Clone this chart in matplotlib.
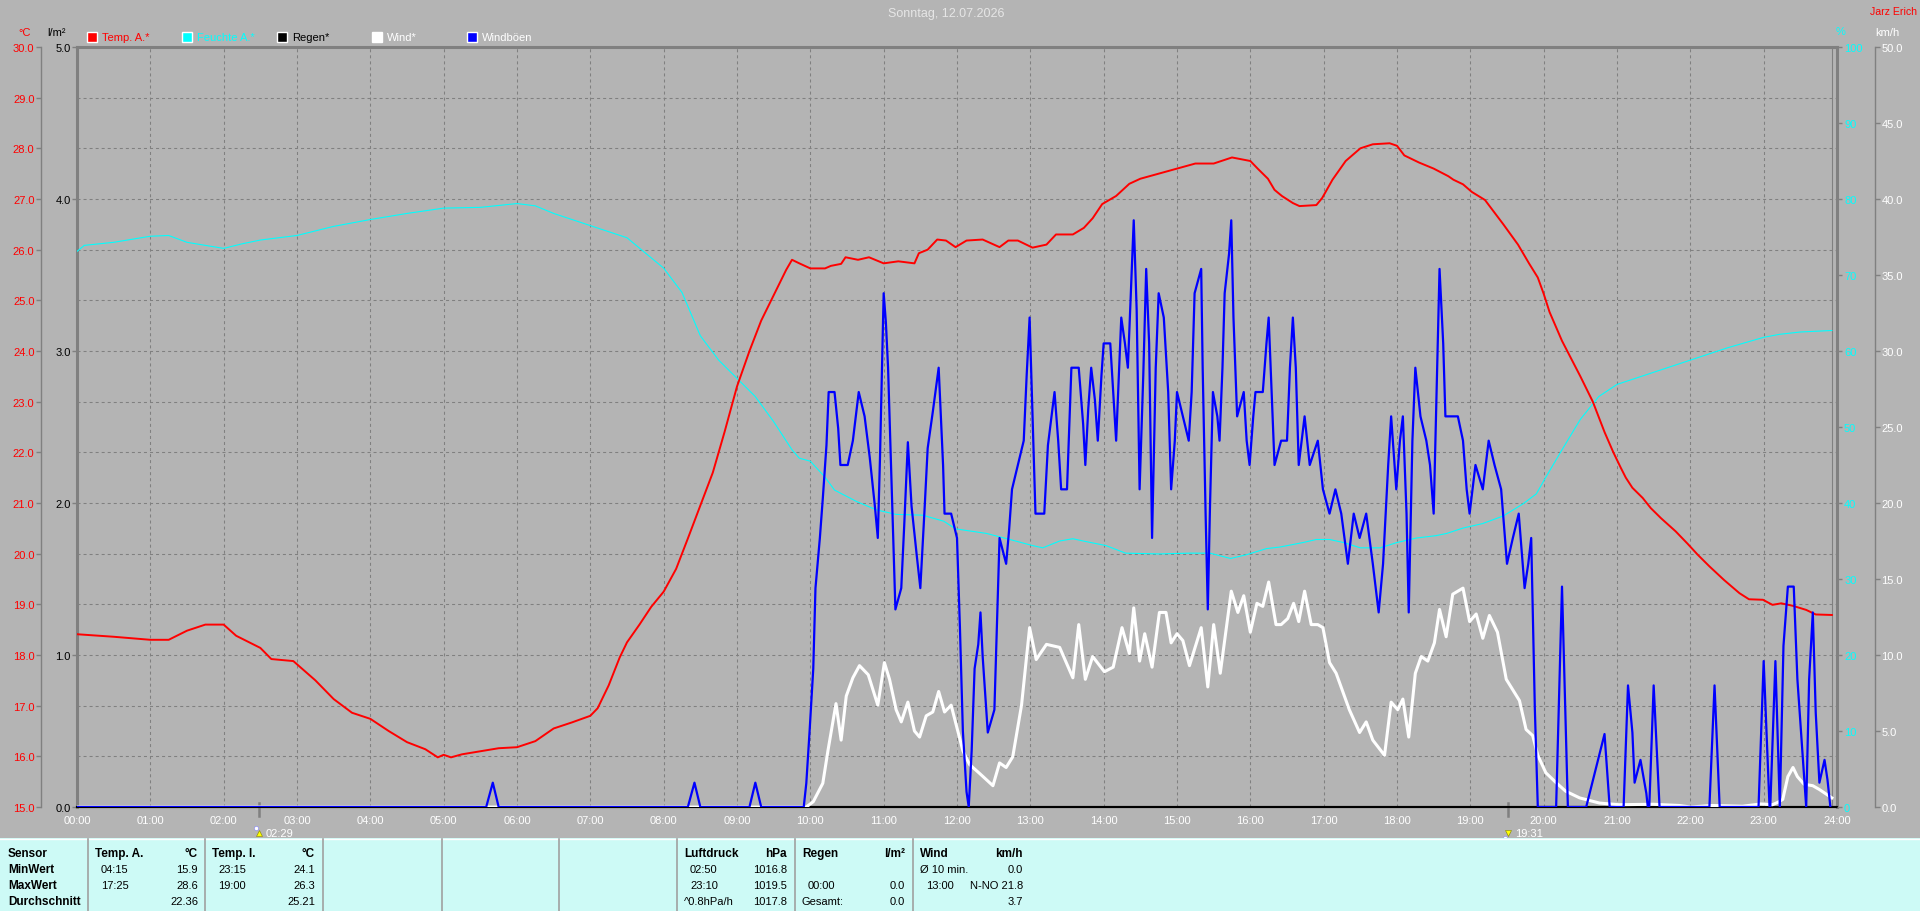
"""Tagesgrafik Wetterstation: Temperatur, Feuchte, Regen, Wind und Windböen (12.07.2026)."""

import matplotlib
matplotlib.use("Agg")
import matplotlib.pyplot as plt
import matplotlib.transforms as mtransforms
from matplotlib.lines import Line2D
from matplotlib.patches import Rectangle
from matplotlib.ticker import FuncFormatter, MultipleLocator

plt.rcParams["font.family"] = ["Liberation Sans", "DejaVu Sans"]

W, H = 1920, 912

# ---------------------------------------------------------------- data (hours of day)
TEMP_T = [0.0, 0.5, 1.0, 1.25, 1.5, 1.75, 2.0, 2.17, 2.5, 2.65, 2.95, 3.25, 3.5, 3.75,
          4.0, 4.25, 4.5, 4.75, 4.92, 5.0, 5.1, 5.25, 5.5, 5.75, 6.0, 6.25, 6.5, 6.75,
          7.0, 7.1, 7.25, 7.4, 7.5, 7.67, 7.83, 8.0, 8.17, 8.33, 8.5, 8.67, 8.83, 9.0,
          9.17, 9.33, 9.5, 9.67, 9.75, 9.85, 10.0, 10.2, 10.28, 10.42, 10.48, 10.65,
          10.8, 11.0, 11.2, 11.42, 11.48, 11.6, 11.73, 11.85, 11.98, 12.13, 12.35,
          12.58, 12.7, 12.83, 13.03, 13.22, 13.35, 13.58, 13.73, 13.85, 13.98, 14.17,
          14.35, 14.5, 14.75, 15.0, 15.25, 15.5, 15.75, 16.0, 16.1, 16.24, 16.33,
          16.43, 16.58, 16.67, 16.9, 16.98, 17.12, 17.3, 17.5, 17.67, 17.9, 18.0,
          18.1, 18.3, 18.5, 18.7, 18.77, 18.9, 19.02, 19.2, 19.45, 19.65, 19.8,
          19.92, 20.0, 20.08, 20.25, 20.5, 20.67, 20.83, 20.95, 21.05, 21.12, 21.21,
          21.35, 21.46, 21.6, 21.8, 21.96, 22.1, 22.26, 22.46, 22.67, 22.8, 22.99,
          23.12, 23.24, 23.4, 23.58, 23.71, 23.93]
TEMP_V = [18.41, 18.36, 18.3, 18.3, 18.48, 18.6, 18.6, 18.38, 18.14, 17.92, 17.88, 17.5,
          17.13, 16.86, 16.74, 16.5, 16.28, 16.14, 15.98, 16.03, 15.98, 16.04, 16.1,
          16.16, 16.18, 16.3, 16.55, 16.67, 16.8, 16.95, 17.4, 17.95, 18.25, 18.6,
          18.95, 19.25, 19.7, 20.3, 20.95, 21.6, 22.4, 23.3, 24.0, 24.6, 25.1, 25.6,
          25.8, 25.73, 25.63, 25.63, 25.68, 25.72, 25.85, 25.8, 25.85, 25.73, 25.77,
          25.73, 25.93, 26.0, 26.2, 26.18, 26.05, 26.18, 26.2, 26.05, 26.18, 26.18,
          26.04, 26.1, 26.3, 26.3, 26.43, 26.62, 26.9, 27.06, 27.3, 27.4, 27.5, 27.6,
          27.7, 27.7, 27.82, 27.75, 27.6, 27.4, 27.18, 27.06, 26.92, 26.86, 26.88,
          27.02, 27.38, 27.75, 28.0, 28.08, 28.1, 28.05, 27.86, 27.72, 27.6, 27.45,
          27.38, 27.29, 27.14, 26.98, 26.5, 26.1, 25.73, 25.45, 25.13, 24.77, 24.2,
          23.5, 23.0, 22.4, 22.0, 21.7, 21.5, 21.3, 21.1, 20.9, 20.7, 20.44, 20.2,
          19.98, 19.75, 19.48, 19.22, 19.1, 19.09, 18.99, 19.02, 18.97, 18.89, 18.8,
          18.79]

HUM_T = [0.0, 0.1, 0.5, 1.0, 1.25, 1.5, 2.0, 2.25, 2.5, 3.0, 3.5, 4.0, 4.5, 5.0, 5.5,
         6.0, 6.25, 6.5, 7.0, 7.5, 8.0, 8.25, 8.5, 8.75, 9.0, 9.25, 9.5, 9.75, 9.85,
         10.0, 10.2, 10.33, 10.63, 10.9, 11.17, 11.53, 11.82, 11.98, 12.4, 12.72,
         13.03, 13.17, 13.4, 13.58, 13.72, 14.03, 14.3, 14.75, 15.17, 15.45, 15.73,
         15.95, 16.22, 16.4, 16.72, 16.9, 17.08, 17.27, 17.5, 17.77, 18.0, 18.27,
         18.53, 18.68, 18.9, 19.17, 19.45, 19.72, 19.9, 20.03, 20.25, 20.5, 20.75,
         21.0, 21.5, 22.0, 22.5, 23.0, 23.22, 23.5, 23.93]
HUM_V = [73.1, 73.9, 74.3, 75.1, 75.2, 74.3, 73.5, 74.1, 74.6, 75.2, 76.4, 77.3, 78.1,
         78.8, 78.9, 79.4, 79.1, 78.1, 76.5, 74.9, 70.9, 67.7, 62.0, 58.8, 56.4, 54.0,
         50.7, 47.0, 45.9, 45.5, 43.4, 41.7, 40.2, 39.1, 38.5, 38.4, 37.6, 36.6, 36.0,
         35.2, 34.4, 34.1, 35.0, 35.3, 35.0, 34.4, 33.4, 33.3, 33.4, 33.4, 32.7, 33.2,
         34.0, 34.2, 34.8, 35.2, 35.2, 34.8, 34.1, 34.1, 34.8, 35.4, 35.7, 36.0, 36.7,
         37.3, 38.3, 39.9, 41.2, 43.4, 47.0, 51.0, 54.0, 55.6, 57.2, 58.8, 60.4, 61.8,
         62.2, 62.5, 62.7]

RAIN_T = [0.0, 24.0]
RAIN_V = [0.0, 0.0]

WIND_T = [0.0, 9.945, 10.04, 10.17, 10.24, 10.35, 10.42, 10.49, 10.58, 10.67, 10.79,
          10.92, 11.01, 11.08, 11.17, 11.24, 11.33, 11.42, 11.49, 11.58, 11.67, 11.75,
          11.83, 11.92, 12.08, 12.17, 12.31, 12.49, 12.58, 12.67, 12.76, 12.88, 12.99,
          13.08, 13.22, 13.4, 13.58, 13.66, 13.75, 13.85, 14.01, 14.13, 14.25, 14.35,
          14.41, 14.49, 14.56, 14.66, 14.76, 14.85, 14.92, 15.0, 15.08, 15.17, 15.33,
          15.42, 15.5, 15.59, 15.74, 15.83, 15.91, 16.0, 16.09, 16.17, 16.25, 16.35,
          16.42, 16.51, 16.59, 16.66, 16.74, 16.83, 16.92, 16.99, 17.08, 17.17, 17.26,
          17.35, 17.49, 17.58, 17.67, 17.83, 17.92, 18.01, 18.08, 18.16, 18.25, 18.33,
          18.42, 18.51, 18.58, 18.67, 18.76, 18.9, 18.99, 19.08, 19.17, 19.26, 19.37,
          19.49, 19.67, 19.76, 19.85, 19.92, 20.03, 20.17, 20.3, 20.49, 20.76, 21.03,
          21.49, 21.85, 22.0, 22.3, 22.71, 22.96, 23.12, 23.19, 23.26, 23.33, 23.4,
          23.46, 23.55, 23.67, 23.76, 23.93]
WIND_V = [0.0, 0.0, 0.35, 1.56, 3.7, 6.8, 4.4, 7.3, 8.5, 9.3, 8.7, 6.7, 9.5, 8.4, 6.4,
          5.6, 6.9, 5.0, 4.6, 6.0, 6.25, 7.6, 6.25, 6.7, 3.7, 2.8, 2.2, 1.4, 2.9, 2.6,
          3.3, 6.7, 11.8, 9.7, 10.7, 10.5, 8.5, 12.0, 8.4, 9.9, 8.9, 9.2, 11.8, 10.1,
          13.1, 9.6, 11.4, 9.2, 12.8, 12.8, 10.8, 11.4, 10.95, 9.3, 11.8, 7.9, 12.0,
          8.8, 14.2, 12.8, 13.9, 11.5, 13.4, 13.2, 14.8, 12.0, 12.0, 12.4, 13.4, 12.2,
          14.2, 12.0, 12.0, 11.8, 9.5, 8.8, 7.6, 6.4, 4.9, 5.6, 4.4, 3.4, 6.9, 6.4,
          7.1, 4.6, 8.8, 9.9, 9.6, 10.8, 13.0, 11.2, 14.0, 14.4, 12.2, 12.7, 11.1,
          12.6, 11.5, 8.4, 7.0, 5.1, 4.7, 3.4, 2.25, 1.6, 1.04, 0.6, 0.26, 0.15, 0.18,
          0.1, 0.0, 0.1, 0.05, 0.2, 0.15, 0.3, 0.5, 2.0, 2.6, 2.0, 1.5, 1.4, 1.15, 0.6]

GUST_T = [0.0, 5.58, 5.67, 5.75, 8.33, 8.42, 8.5, 9.17, 9.25, 9.33, 9.91, 9.945, 9.99,
          10.04, 10.07, 10.13, 10.17, 10.22, 10.25, 10.33, 10.38, 10.41, 10.51, 10.58,
          10.66, 10.74, 10.81, 10.88, 10.92, 10.95, 11.0, 11.03, 11.06, 11.1, 11.16,
          11.24, 11.28, 11.33, 11.38, 11.45, 11.5, 11.56, 11.6, 11.67, 11.75, 11.81,
          11.83, 11.92, 12.0, 12.04, 12.08, 12.13, 12.16, 12.2, 12.24, 12.29, 12.32,
          12.35, 12.42, 12.51, 12.56, 12.58, 12.67, 12.71, 12.75, 12.83, 12.91, 12.95,
          12.99, 13.02, 13.07, 13.19, 13.24, 13.33, 13.38, 13.42, 13.5, 13.56, 13.66,
          13.72, 13.75, 13.79, 13.83, 13.88, 13.92, 13.97, 14.0, 14.09, 14.13, 14.17,
          14.24, 14.29, 14.33, 14.37, 14.41, 14.45, 14.49, 14.54, 14.58, 14.62, 14.66,
          14.71, 14.75, 14.82, 14.88, 14.92, 14.97, 15.0, 15.08, 15.16, 15.2, 15.24,
          15.33, 15.35, 15.39, 15.42, 15.45, 15.49, 15.55, 15.58, 15.62, 15.65, 15.71,
          15.74, 15.77, 15.82, 15.91, 15.95, 15.99, 16.04, 16.07, 16.17, 16.22, 16.25,
          16.29, 16.33, 16.42, 16.5, 16.54, 16.58, 16.62, 16.66, 16.74, 16.81, 16.92,
          16.99, 17.08, 17.16, 17.24, 17.33, 17.41, 17.49, 17.58, 17.67, 17.75, 17.81,
          17.88, 17.92, 17.99, 18.04, 18.08, 18.13, 18.16, 18.21, 18.25, 18.32, 18.4,
          18.45, 18.5, 18.54, 18.58, 18.63, 18.66, 18.83, 18.9, 18.95, 18.99, 19.07,
          19.17, 19.25, 19.33, 19.42, 19.5, 19.58, 19.66, 19.74, 19.79, 19.83, 19.88,
          19.92, 20.17, 20.25, 20.33, 20.58, 20.83, 20.9, 21.09, 21.15, 21.21, 21.24,
          21.32, 21.4, 21.42, 21.44, 21.5, 21.58, 22.26, 22.33, 22.4, 22.93, 23.0,
          23.08, 23.09, 23.16, 23.22, 23.27, 23.33, 23.41, 23.46, 23.58, 23.62, 23.67,
          23.71, 23.76, 23.83, 23.87, 23.91]
GUST_V = [0.0, 0.0, 1.6, 0.0, 0.0, 1.6, 0.0, 0.0, 1.6, 0.0, 0.0, 1.56, 5.0, 9.1, 14.4,
          17.7, 20.3, 23.8, 27.3, 27.3, 24.9, 22.5, 22.5, 24.1, 27.3, 25.7, 23.0, 19.8,
          17.7, 23.0, 33.8, 31.9, 28.9, 22.5, 13.0, 14.4, 18.5, 24.0, 19.8, 16.6, 14.4,
          19.8, 23.6, 26.0, 28.9, 22.5, 19.3, 19.3, 17.7, 11.8, 5.0, 1.0, 0.0, 3.7, 9.1,
          10.7, 12.8, 9.9, 4.9, 6.4, 14.4, 17.7, 16.0, 18.2, 20.9, 22.5, 24.1, 28.4,
          32.2, 27.3, 19.3, 19.3, 23.8, 27.3, 24.1, 20.9, 20.9, 28.9, 28.9, 25.2, 22.5,
          26.2, 28.9, 26.8, 24.1, 28.4, 30.5, 30.5, 27.3, 24.1, 32.2, 30.5, 28.9, 33.8,
          38.6, 32.7, 20.9, 28.4, 35.4, 30.5, 17.7, 28.9, 33.8, 32.2, 27.3, 20.9, 24.1,
          27.3, 25.7, 24.1, 27.3, 33.8, 35.4, 28.9, 19.3, 13.0, 19.8, 27.3, 25.7, 24.1,
          28.9, 33.8, 36.4, 38.6, 32.2, 25.7, 27.3, 24.1, 22.5, 25.7, 27.3, 27.3, 30.5,
          32.2, 27.3, 22.5, 24.1, 24.1, 28.9, 32.2, 28.9, 22.5, 25.7, 22.5, 24.1, 20.9,
          19.3, 20.9, 19.3, 16.0, 19.3, 17.7, 19.3, 16.0, 12.8, 16.0, 22.5, 25.7, 20.9,
          24.1, 25.7, 19.3, 12.8, 24.1, 28.9, 25.7, 24.1, 22.5, 19.3, 27.3, 35.4, 30.5,
          25.7, 25.7, 24.1, 20.9, 19.3, 22.5, 20.9, 24.1, 22.5, 20.9, 16.0, 17.7, 19.3,
          14.4, 16.0, 17.7, 6.4, 0.0, 0.0, 14.5, 0.0, 0.0, 4.8, 0.0, 0.0, 8.0, 4.9, 1.6,
          3.1, 0.9, 0.0, 0.0, 8.0, 0.0, 0.0, 8.0, 0.0, 0.0, 9.6, 0.0, 0.0, 9.6, 0.0,
          10.6, 14.5, 14.5, 8.4, 0.0, 8.4, 12.8, 6.2, 1.6, 3.1, 1.8, 0.0]

HOURS = list(range(25))
HOUR_LABELS = [f"{h:02d}:00" for h in HOURS]
TEMP_TICKS = list(range(15, 31))
RAIN_TICKS = [0, 1, 2, 3, 4, 5]
HUM_TICKS = list(range(0, 101, 10))
WIND_TICKS = [0, 5, 10, 15, 20, 25, 30, 35, 40, 45, 50]

SUN_TIMES = [2.483, 19.517]
SUN_LABELS = ["02:29", "19:31"]

LEGEND_LABELS = ["Temp. A.*", "Feuchte A.*", "Regen*", "Wind*", "Windböen"]
LEGEND_BOX = ["#ff0000", "#00ffff", "#000000", "#ffffff", "#0000ff"]
LEGEND_TEXT = ["#ff0000", "#00ffff", "#000000", "#ffffff", "#ffffff"]

TITLE = "Sonntag, 12.07.2026"
STATION = "Jarz Erich"

ROW_LABELS = ["Sensor", "MinWert", "MaxWert", "Durchschnitt"]
TABLE_COLS = [
    # (left px, header, unit, [(left text, right text), ...])
    (88, "Temp. A.", "°C", [("04:15", "15.9"), ("17:25", "28.6"), ("", "22.36")]),
    (205, "Temp. I.", "°C", [("23:15", "24.1"), ("19:00", "26.3"), ("", "25.21")]),
    (677, "Luftdruck", "hPa", [("02:50", "1016.8"), ("23:10", "1019.5"), ("^0.8hPa/h", "1017.8")]),
    (795, "Regen", "l/m²", [("", ""), ("00:00", "0.0"), ("Gesamt:", "0.0")]),
    (913, "Wind", "km/h", [("Ø 10 min.", "0.0"), ("13:00", "N-NO 21.8"), ("", "3.7")]),
]
TABLE_SEPARATORS = [88, 205, 323, 442, 559, 677, 795, 913]
FLUSH_LEFT = {"^0.8hPa/h", "Gesamt:", "Ø 10 min."}

BG = "#b4b4b4"
FRAME = "#808080"
TABLE_BG = "#cdfaf6"


def fx(px):
    return px / W


def fy(py):
    return 1 - py / H


def one_decimal(v, _pos):
    return f"{v:.1f}"


def main():
    fig = plt.figure(figsize=(W / 100, H / 100), dpi=100, facecolor=BG)
    ax = fig.add_axes([fx(77), fy(808), fx(1837) - fx(77), fy(48) - fy(808)])
    ax.set_facecolor(BG)

    # base axes: rain (l/m²) + grid + frame
    ax.set_xlim(0, 24)
    ax.set_ylim(0, 5)
    ax.set_xticks(HOURS)
    ax.set_xticklabels(HOUR_LABELS)
    ax.set_yticks(RAIN_TICKS)
    ax.yaxis.set_major_formatter(FuncFormatter(one_decimal))
    ax.yaxis.set_minor_locator(MultipleLocator(5 / 15))
    ax.grid(True, which="both", color=FRAME, linestyle=(0, (2.9, 2.9)), linewidth=0.75)
    ax.tick_params(axis="x", length=0, labelcolor="white", labelsize=8, pad=6)
    ax.tick_params(axis="y", which="major", direction="out", length=3.6, width=1,
                   color=FRAME, labelcolor="black", labelsize=8, pad=1)
    ax.tick_params(axis="y", which="minor", length=0)
    for side in ("top", "left", "right"):
        ax.spines[side].set_color(FRAME)
        ax.spines[side].set_linewidth(2.2)
    ax.spines["bottom"].set_color("black")
    ax.spines["bottom"].set_linewidth(1.5)
    ax.plot(RAIN_T, RAIN_V, color="black", lw=1.5, clip_on=False)
    ax.plot([1, 1], [0, 1], color=FRAME, lw=0.8,
            transform=mtransforms.offset_copy(ax.transAxes, fig=fig, x=-5, units="dots"))

    # humidity (%)
    ax_h = ax.twinx()
    ax_h.set_ylim(0, 100)
    ax_h.set_yticks(HUM_TICKS)
    ax_h.tick_params(axis="y", direction="out", length=3.6, width=1, color=FRAME,
                     labelcolor="#00ffff", labelsize=8, pad=1.5)
    for s in ax_h.spines.values():
        s.set_visible(False)
    ax_h.plot(HUM_T, HUM_V, color="#00ffff", lw=0.8)

    # temperature (°C)
    ax_t = ax.twinx()
    ax_t.set_ylim(15, 30)
    ax_t.yaxis.tick_left()
    ax_t.set_yticks(TEMP_TICKS)
    ax_t.yaxis.set_major_formatter(FuncFormatter(one_decimal))
    ax_t.tick_params(axis="y", direction="out", length=3.6, width=1, color=FRAME,
                     labelcolor="#ff0000", labelsize=8, pad=1)
    for side, s in ax_t.spines.items():
        s.set_visible(side == "left")
    ax_t.spines["left"].set_position(("outward", 26))
    ax_t.spines["left"].set_color(FRAME)
    ax_t.spines["left"].set_linewidth(1.0)
    ax_t.plot(TEMP_T, TEMP_V, color="#ff0000", lw=1.4)

    # wind / gusts (km/h)
    ax_w = ax.twinx()
    ax_w.set_ylim(0, 50)
    ax_w.set_yticks(WIND_TICKS)
    ax_w.yaxis.set_major_formatter(FuncFormatter(one_decimal))
    ax_w.tick_params(axis="y", direction="out", length=3.6, width=1, color=FRAME,
                     labelcolor="white", labelsize=8, pad=1)
    for side, s in ax_w.spines.items():
        s.set_visible(side == "right")
    ax_w.spines["right"].set_position(("outward", 27.4))
    ax_w.spines["right"].set_color(FRAME)
    ax_w.spines["right"].set_linewidth(1.0)
    ax_w.plot(WIND_T, WIND_V, color="white", lw=2.2)
    ax_w.plot(GUST_T, GUST_V, color="#0000ff", lw=1.6)

    # sunrise / sunset markers below the time axis
    sun_tr = mtransforms.blended_transform_factory(ax.transData, fig.transFigure)
    for t, lab, up in zip(SUN_TIMES, SUN_LABELS, [True, False]):
        ax.plot([t, t], [fy(804), fy(817)], color=FRAME, lw=1.8, transform=sun_tr,
                clip_on=False)
        ax.plot([t], [fy(834)], marker="^" if up else "v", ms=4.5, color="#ffff00",
                mec="#808000", mew=0.4, transform=sun_tr, clip_on=False)
        ax.plot([t], [fy(829) if up else fy(839)], marker="o", ms=3, color="white",
                mec="#8080ff", mew=0.4,
                transform=mtransforms.offset_copy(sun_tr, fig=fig, x=-3, units="dots"),
                clip_on=False)
        ax.text(t, fy(834), lab, color="white", fontsize=8, ha="left", va="center",
                transform=mtransforms.offset_copy(sun_tr, fig=fig, x=7, units="dots"))

    # header: title, station, legend, units
    fig.text(fx(946), fy(14), TITLE, color="#e6e6e6", fontsize=9, ha="center", va="center")
    fig.text(fx(1893), fy(12), STATION, color="#ff0000", fontsize=7.6, ha="center", va="center")
    for i, (lab, box, tcol) in enumerate(zip(LEGEND_LABELS, LEGEND_BOX, LEGEND_TEXT)):
        x0 = 87 + i * 95
        fig.add_artist(Rectangle((fx(x0), fy(43)), fx(9.5), 10 / H, facecolor=box,
                                 edgecolor="white", lw=1, transform=fig.transFigure))
        fig.text(fx(x0 + 15), fy(38), lab, color=tcol, fontsize=8, ha="left", va="center")
    fig.text(fx(25), fy(33), "°C", color="#ff0000", fontsize=8, ha="center", va="center")
    fig.text(fx(57), fy(33), "l/m²", color="black", fontsize=8, ha="center", va="center")
    fig.text(fx(1841), fy(32), "%", color="#00ffff", fontsize=8, ha="center", va="center")
    fig.text(fx(1887), fy(33), "km/h", color="white", fontsize=8, ha="center", va="center")

    # statistics table
    fig.add_artist(Rectangle((0, 0), 1, fy(839), facecolor=TABLE_BG, edgecolor="none",
                             transform=fig.transFigure))
    fig.add_artist(Line2D([0, 1], [fy(839.5), fy(839.5)], color="white", lw=1,
                          transform=fig.transFigure))
    for xs in TABLE_SEPARATORS:
        fig.add_artist(Line2D([fx(xs), fx(xs)], [fy(840), 0], color="#a0a0a0", lw=1.2,
                              transform=fig.transFigure))
    row_y = [853.7, 869.7, 885.7, 901.7]
    for lab, y in zip(ROW_LABELS, row_y):
        fig.text(fx(8), fy(y), lab, fontsize=8.5, fontweight="bold", ha="left", va="center")
    for x0, head, unit, rows in TABLE_COLS:
        fig.text(fx(x0 + 7), fy(row_y[0]), head, fontsize=8.5, fontweight="bold",
                 ha="left", va="center")
        fig.text(fx(x0 + 110), fy(row_y[0]), unit, fontsize=8.5, fontweight="bold",
                 ha="right", va="center")
        for (left, right), y in zip(rows, row_y[1:]):
            lx = x0 + 7 if left in FLUSH_LEFT else x0 + 13
            fig.text(fx(lx), fy(y), left, fontsize=8, ha="left", va="center")
            fig.text(fx(x0 + 110), fy(y), right, fontsize=8, ha="right", va="center")

    fig.savefig("out.png", dpi=100, facecolor=BG)


if __name__ == "__main__":
    main()
